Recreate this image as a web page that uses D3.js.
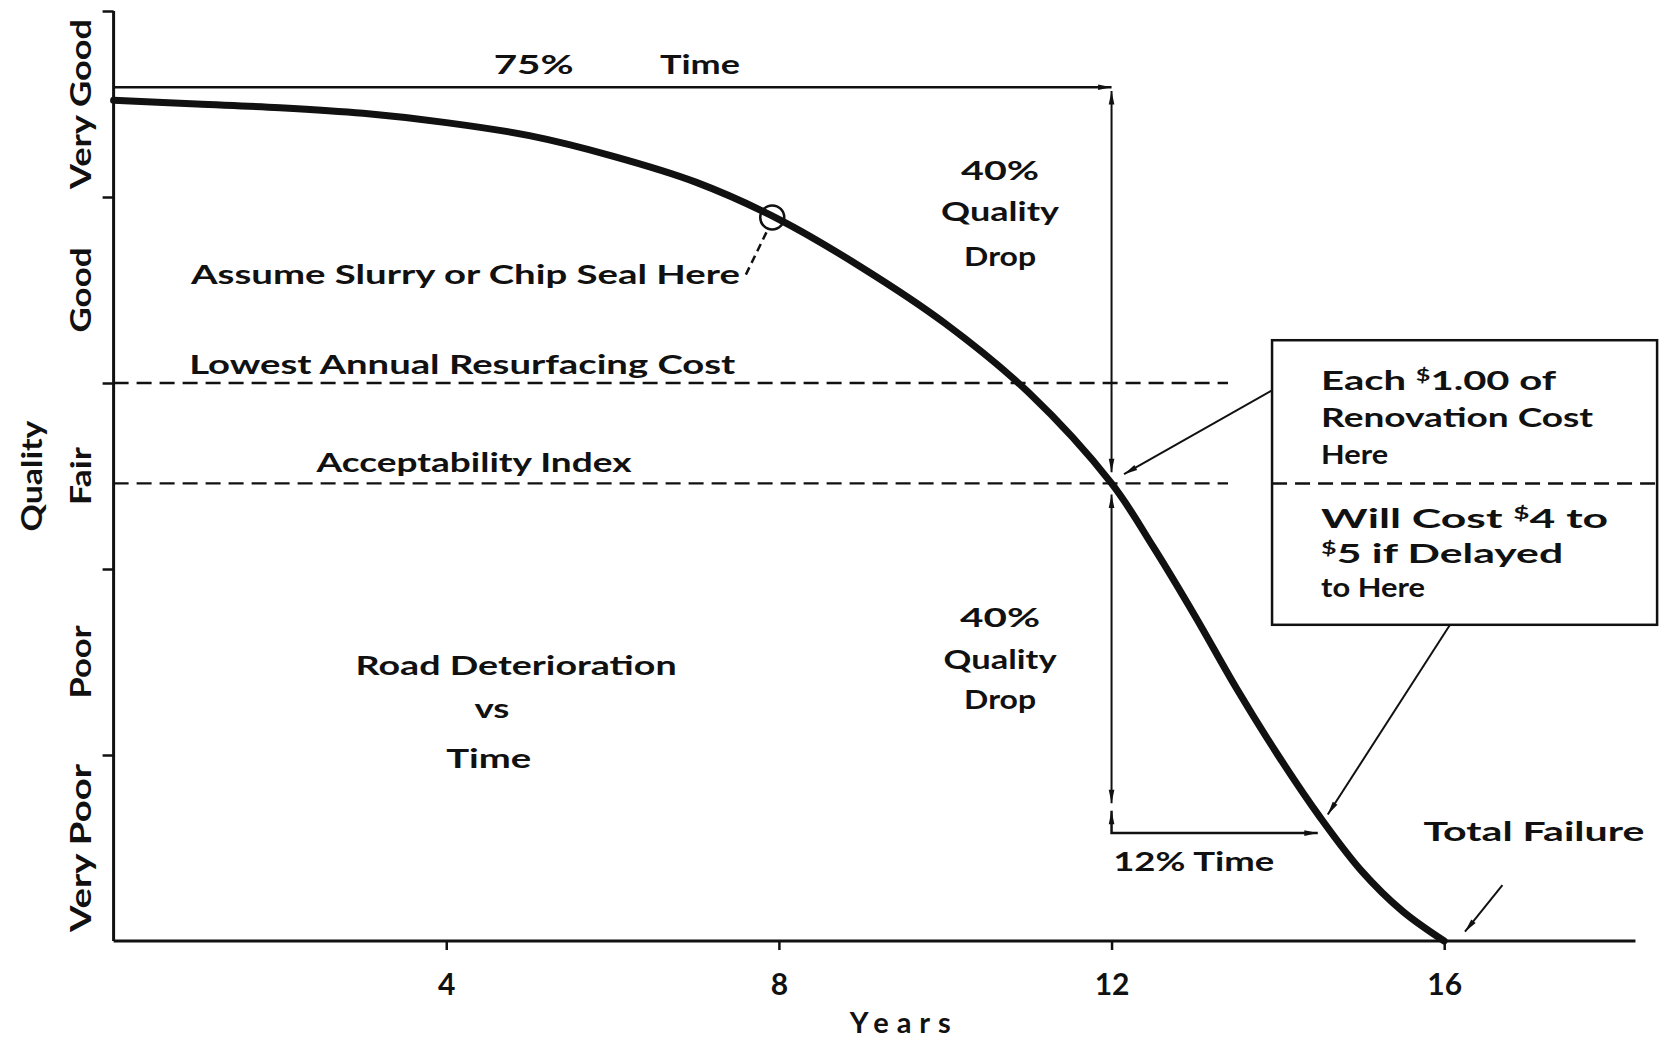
<!DOCTYPE html>
<html>
<head>
<meta charset="utf-8">
<script src="https://cdn.jsdelivr.net/npm/d3@7"></script>
<style>
  html, body { margin: 0; padding: 0; background: #fff; }
  svg text { font-family: Lato, "DejaVu Sans", sans-serif; font-weight: 700; fill: #111; }
</style>
</head>
<body>
<svg id="chart" width="1665" height="1040"></svg>
<script>
// ---- data ----
var years   = [0, 1, 2, 3, 4, 5, 6, 7, 8, 9, 10, 11, 12, 12.5, 13, 13.5, 14, 14.5, 15, 15.5, 16];
var quality = [4.52, 4.50, 4.48, 4.45, 4.40, 4.33, 4.22, 4.08, 3.88, 3.62, 3.32, 2.95, 2.46, 2.12, 1.75, 1.36, 1.00, 0.67, 0.38, 0.16, 0.0];
var xTicks  = [4, 8, 12, 16];
var bandLabels = ["Very Poor", "Poor", "Fair", "Good", "Very Good"];
var lowestCost = 3.0;       // lowest annual resurfacing cost line
var acceptIndex = 2.46;     // acceptability index line
var sealPoint = {yr: 7.92, q: 3.89};

var svg = d3.select("#chart");
var ink = "#111";

var x = d3.scaleLinear().domain([0, 16]).range([113.6, 1444.2]);
var y = d3.scaleLinear().domain([0, 5]).range([941, 11]);

var defs = svg.append("defs");
defs.append("marker").attr("id", "arrow")
    .attr("viewBox", "0 0 12 8").attr("refX", 12).attr("refY", 4)
    .attr("markerWidth", 16).attr("markerHeight", 9).attr("markerUnits", "userSpaceOnUse")
    .attr("orient", "auto")
  .append("path").attr("d", "M0,1.5 L12,4 L0,6.5 Z").attr("fill", ink);
defs.append("marker").attr("id", "arrowStart")
    .attr("viewBox", "0 0 12 8").attr("refX", 0).attr("refY", 4)
    .attr("markerWidth", 16).attr("markerHeight", 9).attr("markerUnits", "userSpaceOnUse")
    .attr("orient", "auto")
  .append("path").attr("d", "M12,1.5 L0,4 L12,6.5 Z").attr("fill", ink);

// -- axes
var xAxis = d3.axisBottom(x).tickValues(xTicks).tickSize(9).tickPadding(24).tickFormat(d3.format("d"));
var gx = svg.append("g").attr("transform", "translate(0," + y(0) + ")").call(xAxis);
gx.attr("font-size", null).attr("font-family", null);
gx.select(".domain").remove();
gx.append("line").attr("x1", x(0)).attr("x2", x(18.3)).attr("stroke", ink).attr("stroke-width", 3);
gx.selectAll(".tick line").attr("stroke", ink).attr("stroke-width", 2.5);
gx.selectAll(".tick text").attr("fill", ink).style("font-size", "30px");

var yAxis = d3.axisLeft(y).tickValues([1, 2, 3, 4, 5]).tickSize(11).tickFormat("");
var gy = svg.append("g").attr("transform", "translate(" + x(0) + ",0)").call(yAxis);
gy.select(".domain").remove();
gy.append("line").attr("y1", y(0)).attr("y2", y(5)).attr("stroke", ink).attr("stroke-width", 3);
gy.selectAll(".tick line").attr("stroke", ink).attr("stroke-width", 2.5);

// band labels, rotated
var bandLen = {"Very Poor": 168, "Poor": 73, "Fair": 58, "Good": 85, "Very Good": 170};
svg.selectAll(".band").data(bandLabels).enter().append("text")
    .attr("class", "band")
    .attr("transform", function(d, i){ return "translate(91," + y(i + 0.5) + ") rotate(-90)"; })
    .attr("text-anchor", "middle")
    .style("font-size", "28px")
    .attr("textLength", function(d){ return bandLen[d]; })
    .attr("lengthAdjust", "spacingAndGlyphs")
    .text(function(d){ return d; });

svg.append("text")
    .attr("transform", "translate(42," + y(2.5) + ") rotate(-90)")
    .attr("text-anchor", "middle").style("font-size", "28px")
    .attr("textLength", 111).attr("lengthAdjust", "spacingAndGlyphs")
    .text("Quality");

svg.append("text").attr("x", x(9.46)).attr("y", 1033).attr("text-anchor", "middle")
    .style("font-size", "29px").attr("textLength", 101).attr("lengthAdjust", "spacing").text("Years");

// -- reference lines
function hline(q, x0, x1, w){
    svg.append("line").attr("x1", x(x0)).attr("x2", x(x1)).attr("y1", y(q)).attr("y2", y(q))
        .attr("stroke", ink).attr("stroke-width", w || 2.5).attr("stroke-dasharray", "15,8");
}
hline(lowestCost, 0, 13.4);
hline(acceptIndex, 0, 13.4, 2.2);

// -- deterioration curve
var line = d3.line().x(function(d){ return x(d[0]); }).y(function(d){ return y(d[1]); }).curve(d3.curveCatmullRom);
svg.append("path").datum(d3.zip(years, quality))
    .attr("d", line).attr("fill", "none").attr("stroke", ink).attr("stroke-width", 7)
    .attr("stroke-linecap", "round");

// chip seal marker
svg.append("circle").attr("cx", x(sealPoint.yr)).attr("cy", y(sealPoint.q)).attr("r", 12)
    .attr("fill", "none").attr("stroke", ink).attr("stroke-width", 2.5);
svg.append("line").attr("x1", x(7.85)).attr("y1", y(3.81)).attr("x2", x(7.6)).attr("y2", y(3.58))
    .attr("stroke", ink).attr("stroke-width", 2.5).attr("stroke-dasharray", "8,5");

// -- arrows
function arrow(pts, w, startArrow){
    var p = svg.append("path").attr("d", d3.line()(pts.map(function(d){ return [x(d[0]), y(d[1])]; })))
        .attr("fill", "none").attr("stroke", ink).attr("stroke-width", w || 2)
        .attr("marker-end", "url(#arrow)");
    if (startArrow) p.attr("marker-start", "url(#arrowStart)");
    return p;
}

arrow([[0, 4.59], [12, 4.59]], 2.5);                       // 75% time
arrow([[12, 4.57], [12, 2.52]], 2, true);                  // upper 40% drop
arrow([[12, 2.40], [12, 0.74]], 2, true);                  // lower 40% drop
arrow([[12, 0.70], [12, 0.58], [14.48, 0.58]], 2.5, true); // 12% time
arrow([[13.93, 2.96], [12.15, 2.51]], 2);                  // box -> fair point
arrow([[16.07, 1.70], [14.6, 0.68]], 2);                   // box -> failing point
arrow([[16.7, 0.30], [16.25, 0.05]], 2);                   // total failure

// -- callout box
var bx0 = x(13.93), bx1 = x(18.56), by0 = y(3.23), by1 = y(1.70);
svg.append("rect").attr("x", bx0).attr("y", by0).attr("width", bx1 - bx0).attr("height", by1 - by0)
    .attr("fill", "#fff").attr("stroke", ink).attr("stroke-width", 2.5);
svg.append("line").attr("x1", bx0).attr("x2", bx1).attr("y1", y(acceptIndex)).attr("y2", y(acceptIndex))
    .attr("stroke", ink).attr("stroke-width", 2.5).attr("stroke-dasharray", "15,8");

// -- annotation text
function label(str, yr, q, opts){
    opts = opts || {};
    var t = svg.append("text").attr("x", x(yr)).attr("y", y(q))
        .attr("text-anchor", opts.anchor || "start").style("font-size", (opts.size || 27) + "px");
    if (opts.len) t.attr("textLength", opts.len).attr("lengthAdjust", "spacingAndGlyphs");
    t.text(str);
    return t;
}
function dollarLabel(parts, yr, q, len){
    var t = svg.append("text").attr("x", x(yr)).attr("y", y(q)).style("font-size", "27px")
        .attr("textLength", len).attr("lengthAdjust", "spacingAndGlyphs");
    parts.forEach(function(p){
        var s = t.append("tspan").text(p.t);
        if (p.sup) s.style("font-size", "17px").attr("baseline-shift", "9px");
    });
}

label("75%", 4.57, 4.66, {len: 80});
label("Time", 6.57, 4.66, {len: 80});
label("40%", 10.66, 4.09, {anchor: "middle", len: 78});
label("Quality", 10.66, 3.87, {anchor: "middle", len: 118});
label("Drop", 10.66, 3.63, {anchor: "middle", len: 72});
label("Assume Slurry or Chip Seal Here", 0.93, 3.53, {len: 549});
label("Lowest Annual Resurfacing Cost", 0.91, 3.05, {len: 546});
label("Acceptability Index", 2.44, 2.52, {len: 315});
label("Road  Deterioration", 2.91, 1.43, {len: 321});
label("vs", 4.55, 1.20, {anchor: "middle", len: 35});
label("Time", 4.51, 0.93, {anchor: "middle", len: 85});
label("40%", 10.66, 1.69, {anchor: "middle", len: 80});
label("Quality", 10.66, 1.46, {anchor: "middle", len: 113});
label("Drop", 10.66, 1.25, {anchor: "middle", len: 72});
label("12% Time", 12.02, 0.375, {len: 161});
label("Total Failure", 15.75, 0.537, {len: 221});

dollarLabel([{t: "Each "}, {t: "$", sup: true}, {t: "1.00 of"}], 14.52, 2.96, 235);
label("Renovation Cost", 14.52, 2.765, {len: 272});
label("Here", 14.52, 2.565, {len: 67});
dollarLabel([{t: "Will Cost  "}, {t: "$", sup: true}, {t: "4 to"}], 14.52, 2.22, 287);
dollarLabel([{t: "$", sup: true}, {t: "5 if Delayed"}], 14.52, 2.03, 242);
label("to Here", 14.52, 1.85, {len: 104});
</script>
</body>
</html>
